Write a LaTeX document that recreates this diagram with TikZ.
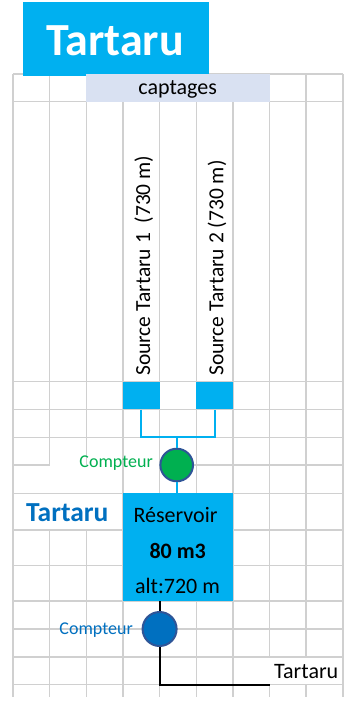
\documentclass[tikz,border=0pt]{standalone}
\usepackage{fontspec}
\setmainfont{Carlito}
\definecolor{xlblue}{HTML}{00B0F0}
\definecolor{capfill}{HTML}{D9E1F2}
\definecolor{gridgray}{HTML}{D0D0D0}
\definecolor{xlgreen}{HTML}{00B050}
\definecolor{darkblue}{HTML}{0070C0}
\definecolor{ringblue}{HTML}{2F5597}
\newcommand\fsnorm{\fontsize{22}{26}\selectfont}
\newcommand\fssrc{\fontsize{21.5}{26}\selectfont}
\newcommand\fscpt{\fontsize{18}{22}\selectfont}
\newcommand\fsmid{\fontsize{27.5}{32}\selectfont}
\newcommand\fsbig{\fontsize{46}{50}\selectfont}
\begin{document}
\begin{tikzpicture}[x=1pt,y=-1pt,
  gl/.style={draw=gridgray,line width=1.5pt},
  boxfill/.style={rectangle,fill=xlblue,inner sep=0pt},
  pipe/.style={draw=xlblue,line width=2pt},
  blackline/.style={draw=black,line width=2pt,line join=miter},
  meter/.style={circle,draw=ringblue,line width=2pt,inner sep=0pt},
  txt/.style={inner sep=0pt,font=\fsnorm}]
\useasboundingbox (0,0) rectangle (359,702);
\fill[white] (0,0) rectangle (359,702);
% grid verticals
\draw[gl] (13,74) -- (13,697);
\draw[gl] (49.65,74) -- (49.65,465) (49.65,530) -- (49.65,697);
\draw[gl] (86.3,101.5) -- (86.3,465) (86.3,530) -- (86.3,697);
\foreach \x in {122.95,159.6,196.25,232.9} \draw[gl] (\x,101.5) -- (\x,697);
\foreach \x in {269.55,306.2} \draw[gl] (\x,74) -- (\x,657) (\x,684.5) -- (\x,697);
\draw[gl] (342.85,74) -- (342.85,697);
% grid horizontals
\foreach \y in {74,101.5,381.5,409.3,437.3,493.3,530,565.5,601,629,657,684.5}
  \draw[gl] (13,\y) -- (342.85,\y);
\draw[gl] (13,465) -- (49.65,465) (159.6,465) -- (342.85,465);
% title
\node[boxfill,minimum width=186pt,minimum height=74pt] (titlebox) at (116,38.8) {};
\node[inner sep=0pt,anchor=base,text=white,font=\bfseries\fsbig] (title) at (115,55) {Tartaru};
% captages
\node[rectangle,fill=capfill,inner sep=0pt,minimum width=183.25pt,minimum height=27.5pt] (capbox) at (177.9,87.75) {};
\node[txt,anchor=base] (captages) at (177.7,94.5) {captages};
% sources
\node[txt,font=\fssrc,rotate=90,anchor=base west] (s1lab) at (150,376) {Source Tartaru 1\ \ (730 m)};
\node[txt,font=\fssrc,rotate=90,anchor=base west] (s2lab) at (223.3,376) {Source Tartaru 2 (730 m)};
\node[boxfill,minimum width=36.65pt,minimum height=27.8pt] (src1) at (141.3,395.4) {};
\node[boxfill,minimum width=36.65pt,minimum height=27.8pt] (src2) at (214.6,395.4) {};
% meter 1
\coordinate (j) at (176.7,437.3);
\node[meter,fill=xlgreen,minimum size=32.6pt] (cpt1) at (176.7,465) {};
\node[inner sep=0pt,anchor=base east,text=xlgreen,font=\fscpt] (c1lab) at (153,467) {Compteur};
% reservoir
\node[boxfill,minimum width=109.95pt,minimum height=107.7pt] (res) at (177.9,547.15) {};
\node[txt,anchor=base] (r1) at (175.5,522) {Réservoir};
\node[txt,anchor=base,font=\bfseries\fsnorm] (r2) at (177.7,558) {80 m3};
\node[txt,anchor=base] (r3) at (177.5,593) {alt:720 m};
\node[inner sep=0pt,anchor=base west,text=darkblue,font=\bfseries\fsmid] (tlab) at (26,521.7) {Tartaru};
% pipes
\draw[pipe] (src1.south) -- (src1.south |- j) -- (src2.south |- j) -- (src2.south);
\draw[pipe] (j) -- (cpt1.north);
\draw[pipe] (cpt1.south) -- (cpt1.south |- res.north);
% meter 2 and outlet
\coordinate (rb) at (159.6,601);
\coordinate (tend) at (269.55,684.5);
\node[meter,fill=darkblue,minimum size=34pt] (cpt2) at (159.6,629) {};
\node[inner sep=0pt,anchor=base east,text=darkblue,font=\fscpt] (c2lab) at (133,634) {Compteur};
\draw[blackline] (rb) -- (cpt2.north);
\draw[blackline] (cpt2.south) |- (tend);
\node[txt,anchor=base west] (outlab) at (274,678.5) {Tartaru};
\end{tikzpicture}
\end{document}
